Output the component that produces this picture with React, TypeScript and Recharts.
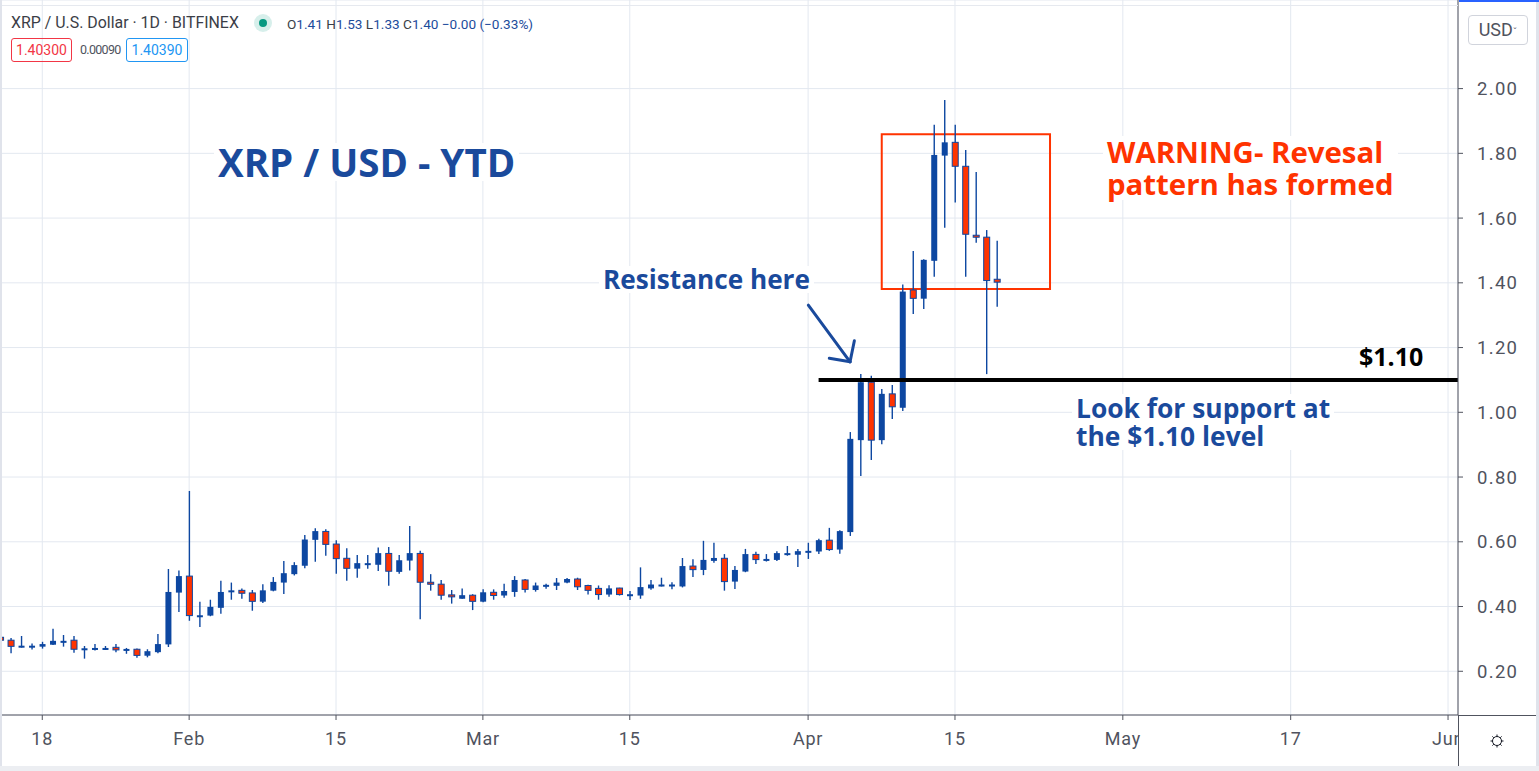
import React from "react";
import {
  Bar, CartesianGrid, ComposedChart, ReferenceArea, ReferenceLine, XAxis, YAxis,
} from "recharts";

document.body.style.margin = "0";

/* XRP / USD daily candles, one per day starting 14 Jan (day -4 from 18 Jan). */
const FIRST_DAY = -4;
const OPEN = [
  0.305, 0.296, 0.276, 0.277, 0.276, 0.282, 0.292, 0.296, 0.267, 0.270, 0.270, 0.274, 0.263, 0.268, 0.248, 0.259,
  0.283, 0.443, 0.494, 0.369, 0.372, 0.396, 0.444, 0.450, 0.442, 0.415, 0.449, 0.474, 0.500, 0.526, 0.606, 0.632,
  0.593, 0.549, 0.517, 0.530, 0.529, 0.564, 0.507, 0.542, 0.564, 0.475, 0.469, 0.436, 0.424, 0.435, 0.415, 0.444,
  0.434, 0.445, 0.482, 0.451, 0.461, 0.464, 0.474, 0.485, 0.465, 0.456, 0.437, 0.457, 0.435, 0.434, 0.456, 0.466,
  0.462, 0.462, 0.525, 0.513, 0.541, 0.549, 0.477, 0.508, 0.561, 0.544, 0.544, 0.560, 0.560, 0.570, 0.570, 0.605,
  0.576, 0.630, 0.914, 1.093, 0.914, 1.057, 1.014, 1.378, 1.351, 1.468, 1.793, 1.834, 1.760, 1.547, 1.541, 1.411,
];
const HIGH = [
  0.310, 0.303, 0.309, 0.286, 0.291, 0.331, 0.312, 0.309, 0.278, 0.284, 0.278, 0.284, 0.272, 0.270, 0.268, 0.315,
  0.516, 0.511, 0.757, 0.415, 0.421, 0.480, 0.474, 0.456, 0.451, 0.469, 0.491, 0.541, 0.537, 0.621, 0.642, 0.639,
  0.605, 0.580, 0.559, 0.559, 0.582, 0.584, 0.559, 0.649, 0.572, 0.500, 0.482, 0.451, 0.456, 0.438, 0.453, 0.453,
  0.470, 0.494, 0.485, 0.474, 0.470, 0.488, 0.488, 0.489, 0.467, 0.465, 0.466, 0.458, 0.448, 0.521, 0.482, 0.489,
  0.475, 0.550, 0.546, 0.603, 0.597, 0.562, 0.525, 0.578, 0.569, 0.562, 0.571, 0.587, 0.578, 0.597, 0.609, 0.643,
  0.636, 0.939, 1.118, 1.113, 1.072, 1.084, 1.395, 1.498, 1.473, 1.888, 1.965, 1.888, 1.810, 1.742, 1.563, 1.530,
];
const LOW = [
  0.290, 0.256, 0.273, 0.267, 0.270, 0.281, 0.276, 0.257, 0.239, 0.264, 0.266, 0.259, 0.254, 0.242, 0.243, 0.256,
  0.275, 0.383, 0.356, 0.337, 0.370, 0.378, 0.421, 0.424, 0.387, 0.411, 0.447, 0.439, 0.496, 0.518, 0.538, 0.557,
  0.501, 0.480, 0.489, 0.517, 0.510, 0.464, 0.501, 0.511, 0.361, 0.449, 0.421, 0.409, 0.424, 0.389, 0.413, 0.421,
  0.427, 0.430, 0.443, 0.446, 0.455, 0.451, 0.472, 0.451, 0.437, 0.421, 0.430, 0.434, 0.420, 0.424, 0.452, 0.462,
  0.453, 0.459, 0.491, 0.497, 0.535, 0.449, 0.454, 0.506, 0.531, 0.539, 0.541, 0.557, 0.522, 0.547, 0.562, 0.572,
  0.563, 0.618, 0.803, 0.853, 0.901, 0.979, 1.004, 1.304, 1.319, 1.419, 1.570, 1.648, 1.419, 1.524, 1.118, 1.326,
];
const CLOSE = [
  0.296, 0.277, 0.279, 0.279, 0.284, 0.294, 0.294, 0.268, 0.271, 0.272, 0.272, 0.266, 0.269, 0.249, 0.262, 0.284,
  0.445, 0.494, 0.372, 0.373, 0.399, 0.445, 0.450, 0.441, 0.416, 0.450, 0.476, 0.503, 0.528, 0.607, 0.633, 0.592,
  0.548, 0.518, 0.534, 0.534, 0.565, 0.509, 0.543, 0.565, 0.475, 0.470, 0.435, 0.430, 0.435, 0.416, 0.444, 0.434,
  0.448, 0.482, 0.453, 0.465, 0.467, 0.474, 0.485, 0.461, 0.450, 0.437, 0.456, 0.437, 0.438, 0.460, 0.468, 0.468,
  0.468, 0.525, 0.514, 0.544, 0.550, 0.477, 0.513, 0.562, 0.545, 0.547, 0.565, 0.565, 0.571, 0.572, 0.605, 0.576,
  0.633, 0.918, 1.093, 0.914, 1.057, 1.017, 1.373, 1.352, 1.471, 1.795, 1.834, 1.760, 1.550, 1.541, 1.407, 1.402,
];

const X_TICKS = [0, 14, 28, 42, 56, 73, 87, 103, 119, 134];
const X_LABELS = ["18", "Feb", "15", "Mar", "15", "Apr", "15", "May", "17", "Jun"];
const Y_TICKS = [0.2, 0.4, 0.6, 0.8, 1.0, 1.2, 1.4, 1.6, 1.8, 2.0];

const SUPPORT = 1.1;
const SUPPORT_FROM = 74;
const BOX = { x1: 80.02, x2: 96.06, y1: 1.381, y2: 1.859 };
const ARROW = [
  [{ x: 73.02, y: 1.331 }, { x: 77.0, y: 1.156 }],
  [{ x: 75.02, y: 1.167 }, { x: 77.0, y: 1.156 }],
  [{ x: 77.41, y: 1.221 }, { x: 77.0, y: 1.156 }],
];

const BLUE = "#0d47a1";
const RED = "#ff3300";
const NAVY = "#1a4a9c";
const AXIS_INK = "#50535e";
const GRID = "#e3e8f0";

const data = OPEN.map((o, i) => ({
  d: FIRST_DAY + i, o, h: HIGH[i], l: LOW[i], c: CLOSE[i], range: [LOW[i], HIGH[i]],
}));

function Candle(props: any) {
  const { x, y, width, height, payload } = props;
  const { o, h, l, c } = payload;
  const toY = (v: number) => y + ((h - v) / (h - l)) * height;
  const cx = x + width / 2;
  const top = toY(Math.max(o, c));
  const bh = Math.max(toY(Math.min(o, c)) - top, 2);
  const up = c >= o;
  return (
    <g>
      <line x1={cx} x2={cx} y1={y} y2={y + height} stroke={BLUE} strokeWidth={1.4} />
      <rect x={x + 0.5} y={top} width={width - 1} height={bh}
        fill={up ? BLUE : RED} stroke={BLUE} strokeWidth={up ? 0 : 1} />
    </g>
  );
}

function XTick({ x, y, payload }: any) {
  const i = X_TICKS.indexOf(payload.value);
  return (
    <g>
      <defs>
        <clipPath id={`xc${i}`}><rect x={0} y={0} width={1458} height={771} /></clipPath>
      </defs>
      <text x={x} y={y} dy="0.71em" textAnchor="middle" fontSize={18} fill={AXIS_INK} letterSpacing={0.8}
        fontFamily="Roboto, sans-serif" clipPath={`url(#xc${i})`}>{X_LABELS[i]}</text>
    </g>
  );
}

const note: React.CSSProperties = {
  position: "absolute", background: "#fff", fontFamily: "'Open Sans', sans-serif",
  fontWeight: 700, whiteSpace: "pre", padding: "0 4px", margin: "0 -4px",
};
const ui: React.CSSProperties = { position: "absolute", fontFamily: "Roboto, sans-serif", whiteSpace: "pre" };

export default function App() {
  return (
    <div style={{ position: "relative", width: 1539, height: 771, background: "#fff", overflow: "hidden" }}>
      <ComposedChart width={1539} height={771} data={data} margin={{ top: 0, right: 0, bottom: 0, left: 0 }}>
        <CartesianGrid stroke={GRID} strokeWidth={1} />
        <XAxis type="number" dataKey="d" domain={[-4.03, 134.95]} allowDataOverflow ticks={X_TICKS}
          height={56} tickSize={5} tickMargin={12} stroke={AXIS_INK} tick={<XTick />} interval={0} />
        <YAxis orientation="right" type="number" domain={[0.0649, 2.2737]} allowDataOverflow ticks={Y_TICKS}
          width={81} tickSize={5} tickMargin={14} stroke={AXIS_INK} interval={0}
          tickFormatter={(v: number) => v.toFixed(2)}
          tick={{ fontSize: 18.5, fill: AXIS_INK, fontFamily: "Roboto, sans-serif", letterSpacing: 1.3 }} />
        <Bar dataKey="range" barSize={7} shape={<Candle />} isAnimationActive={false} />
        <ReferenceArea x1={BOX.x1} x2={BOX.x2} y1={BOX.y1} y2={BOX.y2}
          fill="none" fillOpacity={0} stroke={RED} strokeWidth={2} />
        <ReferenceLine segment={[{ x: SUPPORT_FROM, y: SUPPORT }, { x: 134.95, y: SUPPORT }]}
          stroke="#000" strokeWidth={4} />
        {ARROW.map((seg, i) => (
          <ReferenceLine key={i} segment={seg} stroke={NAVY} strokeWidth={3} strokeLinecap="round" />
        ))}
      </ComposedChart>

      {/* frame: bottom axis line under the price scale, border strips, gear */}
      <div style={{ position: "absolute", left: 0, top: 5, width: 1458, height: 1, background: "#e6e9ef" }} />
      <div style={{ position: "absolute", left: 1458, top: 715, width: 81, height: 1, background: AXIS_INK }} />
      <div style={{ position: "absolute", left: 1458, top: 715, width: 1, height: 56, background: AXIS_INK }} />
      <div style={{ position: "absolute", left: 0, top: 0, width: 2, height: 771, background: "#e0e3eb" }} />
      <div style={{ position: "absolute", right: 0, top: 0, width: 3, height: 771, background: "#e0e3eb" }} />
      <div style={{ position: "absolute", left: 0, top: 766, width: 1539, height: 5, background: "#eceef2" }} />
      <div style={{ position: "absolute", left: 1459, top: 0, width: 80, height: 2, background: "#2962ff" }} />
      <svg style={{ position: "absolute", left: 1489, top: 733 }} width={16} height={16}>
        <circle cx={8} cy={8} r={4.5} fill="none" stroke="#131722" strokeWidth={1} />
        {[0, 45, 90, 135, 180, 225, 270, 315].map((a) => (
          <line key={a} x1={8 + 4.5 * Math.cos((a * Math.PI) / 180)} y1={8 + 4.5 * Math.sin((a * Math.PI) / 180)}
            x2={8 + 6.5 * Math.cos((a * Math.PI) / 180)} y2={8 + 6.5 * Math.sin((a * Math.PI) / 180)}
            stroke="#131722" strokeWidth={1} />
        ))}
      </svg>

      {/* currency button */}
      <div style={{
        ...ui, left: 1468, top: 15, width: 58, height: 28, border: "1px solid #d1d4dc",
        borderRadius: 4, fontSize: 18, color: AXIS_INK, lineHeight: "28px",
        textAlign: "center", background: "#fff",
      }}>USD<span style={{ fontSize: 10 }}>ˇ</span></div>

      {/* legend header */}
      <div style={{ ...ui, left: 11, top: 13, fontSize: 15.9, color: "#3b3e47" }}>
        XRP / U.S. Dollar · 1D · BITFINEX
      </div>
      <div style={{ position: "absolute", left: 254, top: 14, width: 18, height: 18, borderRadius: 9, background: "rgba(8,153,129,0.16)" }} />
      <div style={{ position: "absolute", left: 259, top: 19, width: 8, height: 8, borderRadius: 4, background: "#089981" }} />
      <div style={{ ...ui, left: 287, top: 15.5, fontSize: 13.6, color: "#1c4c9c" }}>
        <span style={{ color: "#3b3e47" }}>O</span>1.41 <span style={{ color: "#3b3e47" }}>H</span>1.53{" "}
        <span style={{ color: "#3b3e47" }}>L</span>1.33 <span style={{ color: "#3b3e47" }}>C</span>1.40 −0.00 (−0.33%)
      </div>
      <div style={{ ...ui, left: 11, top: 38, width: 59, height: 22, border: "1px solid #f23645", borderRadius: 3, color: "#f23645", fontSize: 14, lineHeight: "22px", textAlign: "center" }}>1.40300</div>
      <div style={{ ...ui, left: 80, top: 42, fontSize: 12.5, letterSpacing: -0.7, color: "#50535e" }}>0.00090</div>
      <div style={{ ...ui, left: 126, top: 38, width: 60, height: 22, border: "1px solid #2196f3", borderRadius: 3, color: "#2196f3", fontSize: 14, lineHeight: "22px", textAlign: "center" }}>1.40390</div>

      {/* annotations */}
      <div style={{ ...note, left: 218, top: 143, fontSize: 38.5, lineHeight: "38px", color: NAVY }}>XRP / USD - YTD</div>
      <div style={{ ...note, left: 603, top: 266, fontSize: 26.2, lineHeight: "27px", color: NAVY }}>Resistance here</div>
      <div style={{ ...note, left: 1107, top: 136, fontSize: 29.4, lineHeight: "32px", color: RED }}>{"WARNING- Revesal\npattern has formed"}</div>
      <div style={{ ...note, left: 1076, top: 394, fontSize: 26.4, lineHeight: "28px", color: NAVY }}>{"Look for support at\nthe $1.10 level"}</div>
      <div style={{ ...note, left: 1359, top: 344, fontSize: 25, lineHeight: "25px", color: "#000", background: "transparent" }}>$1.10</div>
    </div>
  );
}
